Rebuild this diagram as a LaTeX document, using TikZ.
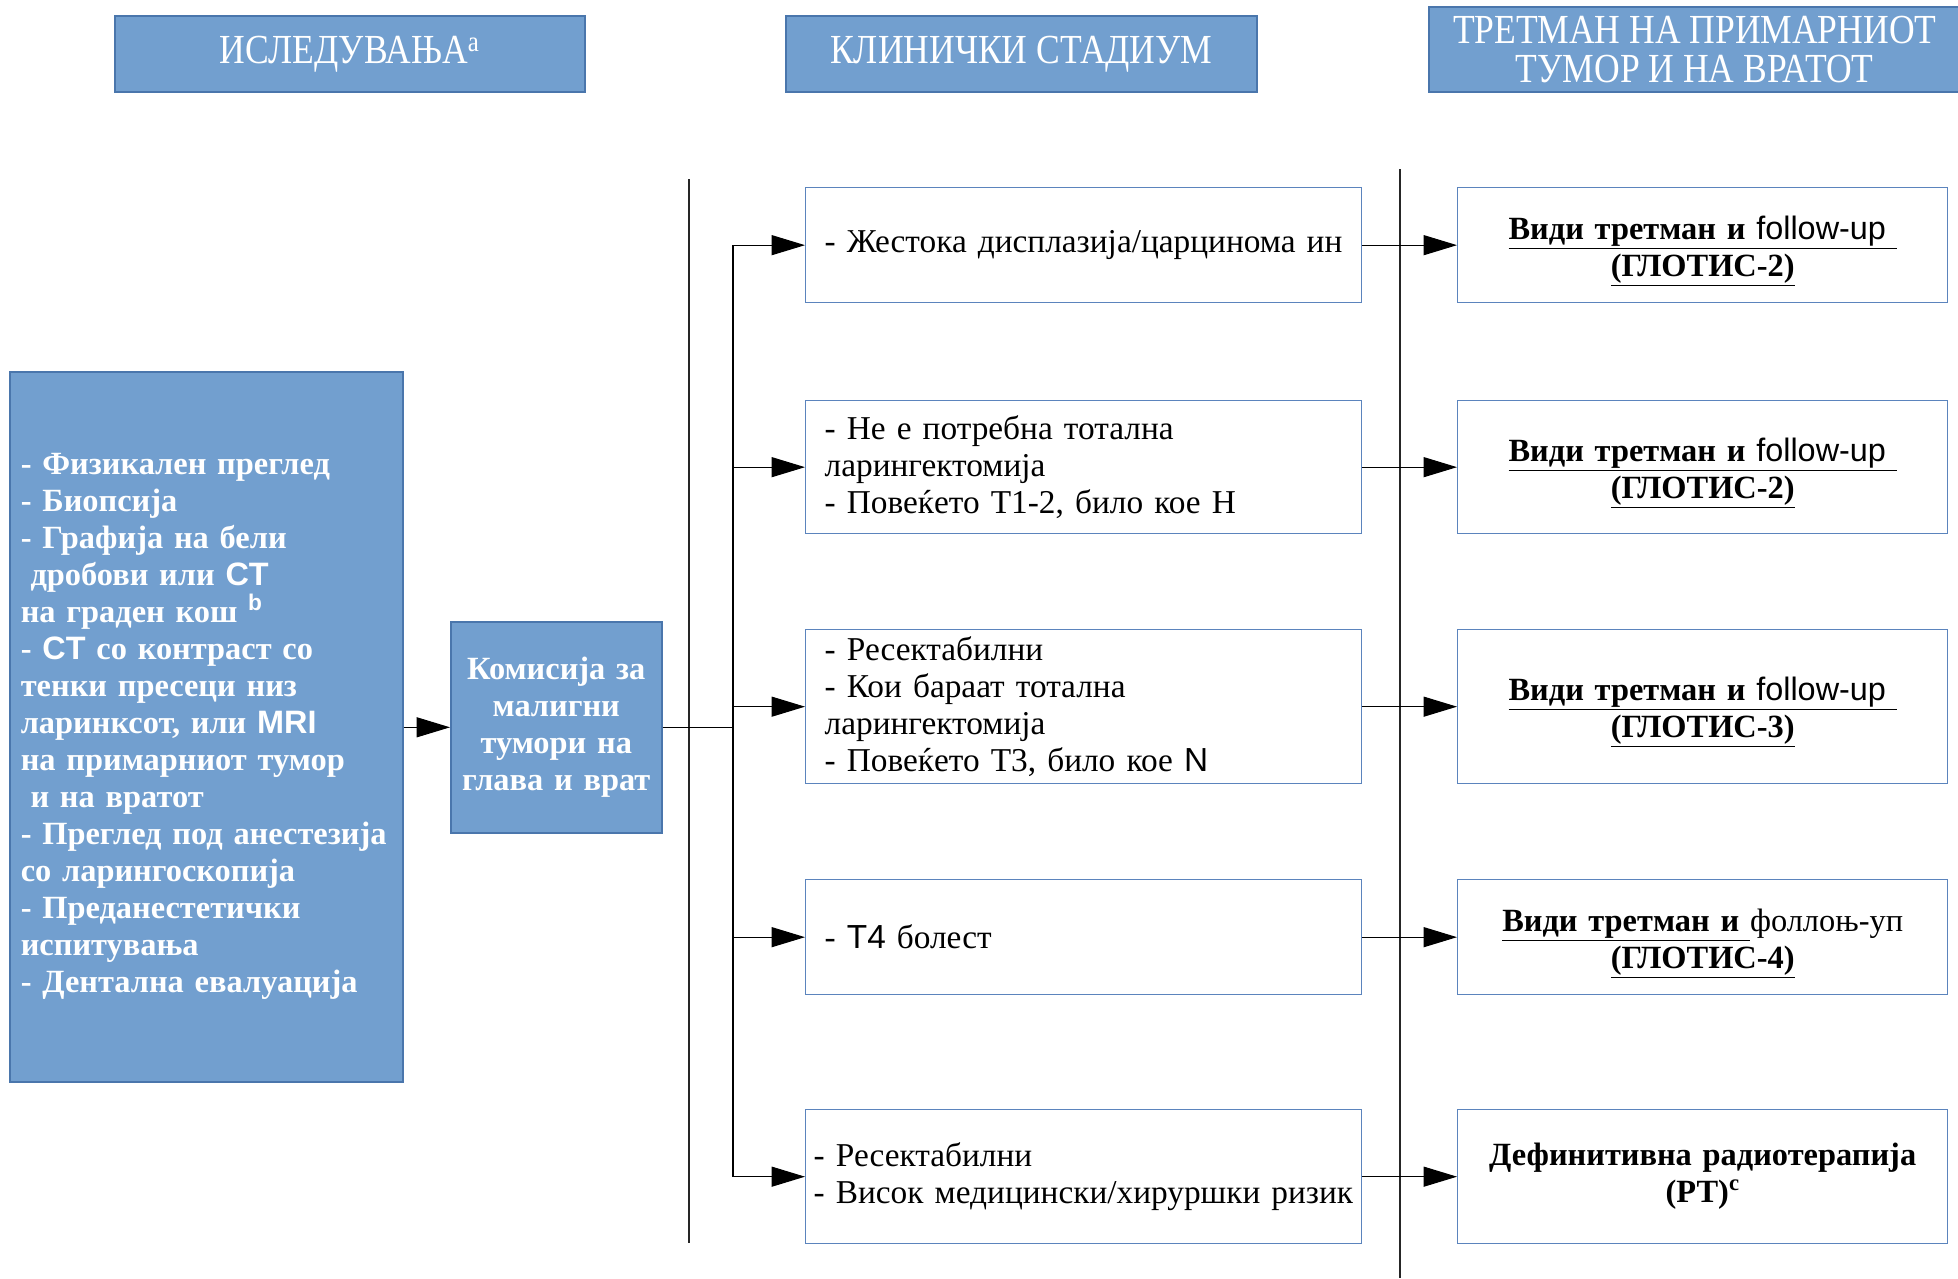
\documentclass[tikz,border=0pt]{standalone}
\usepackage{fontspec}
\setmainfont{Liberation Serif}
\setsansfont{Liberation Sans}
\newfontfamily\condfont[FakeStretch=0.86]{Liberation Serif}
\usetikzlibrary{arrows.meta}
\definecolor{boxblue}{HTML}{729FCF}
\definecolor{edgeblue}{HTML}{4A76AC}
\definecolor{lineblue}{HTML}{5B84BD}
\newcommand{\fbody}{\fontsize{25pt}{27.75pt}\selectfont}
\newcommand{\fbold}{\fontsize{24.3pt}{27.75pt}\selectfont\bfseries}
\newcommand{\fhead}{\fontsize{31pt}{29pt}\selectfont}
\begin{document}
\begin{tikzpicture}[x=0.75pt,y=-0.75pt,
  filled/.style={draw=edgeblue, fill=boxblue, line width=1.2pt, anchor=north west, text=white},
  plainbox/.style={draw=lineblue, fill=white, line width=1pt, anchor=north west, text=black, font=\fbody},
  midbox/.style={plainbox, minimum width=417pt, text width=388.5pt, inner xsep=14.25pt, align=left},
  rightbox/.style={plainbox, minimum width=367.5pt, text width=355.5pt, inner xsep=6pt, align=center, font=\fontsize{24.3pt}{27.75pt}\selectfont},
  headbox/.style={filled, font=\condfont\fhead, align=center, inner sep=0pt},
  arr/.style={-{Triangle[length=25pt,width=15pt]}, line width=0.8pt, black},
  conn/.style={line width=0.8pt, black},
  sep/.style={line width=0.9pt, black!85}]
\useasboundingbox (0,0) rectangle (1958,1278);
\fill[white] (0,0) rectangle (1958,1278);

% headers
\node[headbox, minimum width=352.5pt, minimum height=57pt] (h1) at (114,15) {ИСЛЕДУВАЊА\textsuperscript{a}};
\node[headbox, minimum width=353.25pt, minimum height=57pt] (h2) at (785,15) {КЛИНИЧКИ СТАДИУМ};
\node[headbox, minimum width=399pt, minimum height=63.75pt] (h3) at (1428,6) {ТРЕТМАН НА ПРИМАРНИОТ\\ТУМОР И НА ВРАТОТ};

% left box
\node[filled, minimum width=294.75pt, minimum height=532.5pt, text width=278.25pt, inner xsep=8.25pt, align=left, font=\fbold] (lb) at (9,371)
{- Физикален преглед\\- Биопсија\\- Графија на бели\\\hspace*{0.3em}дробови или \textsf{CT}\\на граден кош \textsuperscript{\textsf{b}}\\- \textsf{CT} со контраст со\\тенки пресеци низ\\ларинксот, или \textsf{MRI}\\на примарниот тумор\\\hspace*{0.3em}и на вратот\\\mbox{- Преглед под анестезија}\\со ларингоскопија\\- Преданестетички\\испитувања\\- Дентална евалуација};

% commission box
\node[filled, minimum width=158.25pt, minimum height=158.25pt, text width=150pt, inner xsep=4pt, align=center, font=\fbold] (kom) at (450,621)
{Комисија за\\малигни\\тумори на\\глава и врат};

% middle boxes
\node[midbox, minimum height=86.25pt] (m1) at (805,187) {\mbox{- Жестока дисплазија/царцинома ин}};
\node[midbox, minimum height=99.75pt] (m2) at (805,400) {- Не е потребна тотална\\ларингектомија\\- Повеќето Т1-2, било кое Н};
\node[midbox, minimum height=115.5pt] (m3) at (805,629) {- Ресектабилни\\- Кои бараат тотална\\ларингектомија\\- Повеќето Т3, било кое \textsf{N}};
\node[midbox, minimum height=86.25pt] (m4) at (805,879) {- \textsf{T4} болест};
\node[midbox, minimum height=100.5pt, inner xsep=6pt, text width=405pt] (m5) at (805,1109) {- Ресектабилни\\\mbox{- Висок медицински/хируршки ризик}};

% right boxes
\node[rightbox, minimum height=86.25pt] (r1) at (1457,187) {\rule{0pt}{26pt}\underline{\textbf{Види третман и }\textsf{follow-up}\ }\\\underline{\textbf{(ГЛОТИС-2)}}};
\node[rightbox, minimum height=99.75pt] (r2) at (1457,400) {\rule{0pt}{26pt}\underline{\textbf{Види третман и }\textsf{follow-up}\ }\\\underline{\textbf{(ГЛОТИС-2)}}};
\node[rightbox, minimum height=115.5pt] (r3) at (1457,629) {\rule{0pt}{26pt}\underline{\textbf{Види третман и }\textsf{follow-up}\ }\\\underline{\textbf{(ГЛОТИС-3)}}};
\node[rightbox, minimum height=86.25pt] (r4) at (1457,879) {\rule{0pt}{26pt}\underline{\textbf{Види третман и }}фоллоњ-уп\\\underline{\textbf{(ГЛОТИС-4)}}};
\node[rightbox, minimum height=100.5pt] (r5) at (1457,1109) {\textbf{Дефинитивна радиотерапија}\\\textbf{(РТ)\textsuperscript{c}}};

% separators
\draw[sep] (689,179) -- (689,1243);
\draw[sep] (1400,169) -- (1400,1278);

% connectors
\coordinate (tx) at (733,0);
\draw[arr] (lb.east |- kom.west) -- (kom.west);
\draw[conn] (kom.east) -- (kom.east -| tx);
\draw[conn] (m1.west -| tx) -- (m5.west -| tx);
\foreach \i in {1,...,5}{
  \draw[arr] (m\i.west -| tx) -- (m\i.west);
  \draw[arr] (m\i.east) -- (r\i.west);
}
\end{tikzpicture}
\end{document}
